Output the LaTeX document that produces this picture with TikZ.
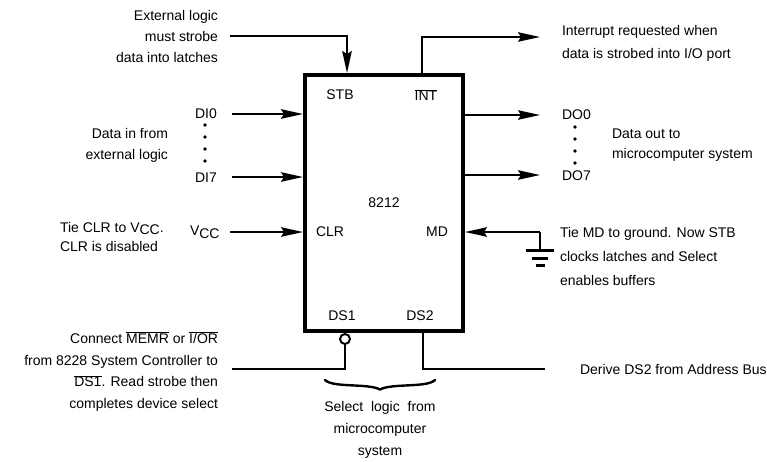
\documentclass[tikz,border=0pt]{standalone}
\usepackage{fontspec}
\setmainfont{Liberation Sans}
\usetikzlibrary{arrows.meta}
\newcommand{\ovl}[1]{$\overline{\mbox{#1}}$}
\begin{document}
\begin{tikzpicture}[x=1pt,y=-1pt,
  every node/.style={font=\fontsize{14}{21}\selectfont, inner sep=0pt, outer sep=0pt},
  chipbox/.style={draw, line width=4.5pt, minimum width=158pt, minimum height=256pt},
  wire/.style={line width=2pt},
  arr/.style={wire, -{Stealth[length=22pt,width=9.5pt,inset=3pt]}},
  gbar/.style={line width=3pt},
  dotmark/.style={circle, fill, minimum size=3.8pt},
  lbl/.style={align=left, anchor=west},
  lbr/.style={align=right, anchor=east},
  brc/.style={line width=2.4pt, line cap=round}
]
\useasboundingbox (0,0) rectangle (767,461);

% chip
\node[chipbox] (chip) at (384,203) {8212};
\node (stb) at (340,95) {STB};
\node (int) at (426,95) {\ovl{INT}};
\node (clr) at (330,232) {CLR};
\node (md) at (437,232) {MD};
\node (ds1) at (342,316) {DS1};
\node (ds2) at (420,316) {DS2};

% STB
\node[lbr, font=\fontsize{14}{21}\selectfont] (ext) at (218,36) {External logic\\must strobe\\data into latches};
\coordinate (stbsrc) at (230,36);
\coordinate (stbpin) at (347,73);
\draw[arr] (stbsrc) -| (stbpin);

% INT
\coordinate (intpin) at (422,73);
\coordinate (intend) at (540,37);
\draw[arr] (intpin) |- (intend);
\node[lbl, font=\fontsize{14}{23}\selectfont] (intr) at (562,43.5) {Interrupt requested when\\data is strobed into I/O port};

% DI
\node[anchor=west] (di0) at (195,114) {DI0};
\node[anchor=west] (di7) at (195,178) {DI7};
\foreach \yy [count=\i] in {125,137,149,161} \node[dotmark] (did\i) at (205,\yy) {};
\coordinate (di0s) at (232,114);
\coordinate (di0p) at (303,114);
\coordinate (di7s) at (232,177);
\coordinate (di7p) at (303,177);
\draw[arr] (di0s) -- (di0p);
\draw[arr] (di7s) -- (di7p);
\node[lbr] (datain) at (168,145.5) {Data in from\\external logic};

% DO
\coordinate (do0p) at (465,115);
\coordinate (do0e) at (540,115);
\coordinate (do7p) at (465,175);
\coordinate (do7e) at (540,175);
\draw[arr] (do0p) -- (do0e);
\draw[arr] (do7p) -- (do7e);
\node[anchor=west] (do0) at (562,115) {DO0};
\node[anchor=west] (do7) at (562,176) {DO7};
\foreach \yy [count=\i] in {127,139,151,163} \node[dotmark] (dod\i) at (575,\yy) {};
\node[lbl, font=\fontsize{14}{20}\selectfont] (dataout) at (612,145) {Data out to\\microcomputer system};

% CLR
\node[anchor=west, font=\fontsize{14}{19}\selectfont, align=left] (tieclr) at (60,236.5) {Tie CLR to V\raisebox{-0.35ex}{CC}.\\CLR is disabled};
\node[anchor=west] (vcc) at (190,232) {V\raisebox{-0.35ex}{CC}};
\coordinate (clrs) at (230,232);
\coordinate (clrp) at (303,232);
\draw[arr] (clrs) -- (clrp);

% MD
\coordinate (gnd) at (540,232);
\coordinate (mdp) at (465,232);
\coordinate (gndb) at (540,250);
\draw[arr] (gnd) -- (mdp);
\draw[wire] (gnd) -- (gndb);
\draw[gbar] (526,250) -- (554,250);
\draw[gbar] (532,258) -- (548,258);
\draw[gbar] (535.5,265.5) -- (544.5,265.5);
\node[lbl, font=\fontsize{14}{24}\selectfont] (tiemd) at (560,256) {Tie MD to ground. Now STB\\clocks latches and Select\\enables buffers};

% DS1
\node[circle, draw, line width=2pt, minimum size=10pt] (bub) at (345,339) {};
\coordinate (ds1e) at (232,369);
\draw[wire] (bub.south) |- (ds1e);
\node[lbr, font=\fontsize{14}{21.7}\selectfont] (connect) at (218,371.5) {Connect \ovl{MEMR} or \ovl{I/OR}\\from 8228 System Controller to\\\ovl{DS1}. Read strobe then\\completes device select};

% DS2
\coordinate (ds2p) at (423,331);
\coordinate (ds2e) at (545,369);
\draw[wire] (ds2p) |- (ds2e);
\node[anchor=west] (derive) at (580,369) {Derive DS2 from Address Bus};

% brace
\coordinate (bra) at (325,380);
\coordinate (brt) at (380,389.5);
\coordinate (brb) at (435,380);
\draw[brc] (bra) .. controls (333,388) and (368,383) .. (brt)
               .. controls (392,383) and (427,388) .. (brb);
\node[align=center, font=\fontsize{14}{22}\selectfont] (sel) at (380,430) {Select\ \ logic\ \ from\\microcomputer\\system};
\end{tikzpicture}
\end{document}
